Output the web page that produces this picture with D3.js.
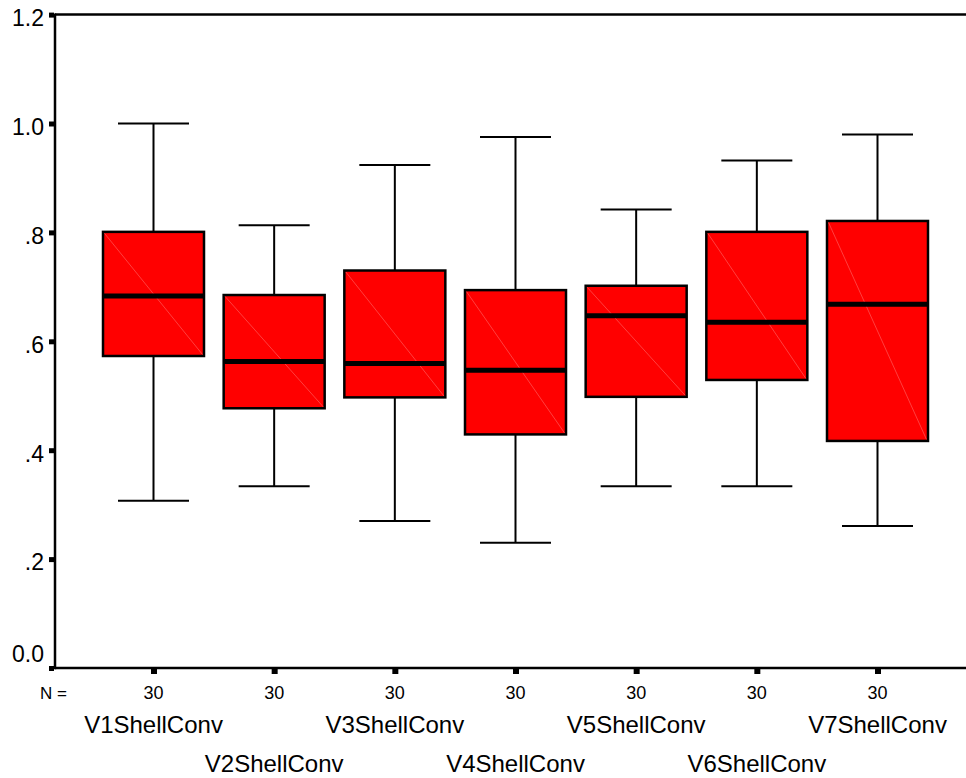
<!DOCTYPE html>
<html>
<head>
<meta charset="utf-8">
<title>Boxplot</title>
<script src="https://cdnjs.cloudflare.com/ajax/libs/d3/7.8.5/d3.min.js"></script>
<style>
    body { margin: 0; background: white; }
    svg text { font-family: "Liberation Sans", Arial, sans-serif; fill: black; }
</style>
</head>
<body>
<svg id="boxSVG" width="966" height="778"></svg>
<script>
// values
var categories = ["V1ShellConv", "V2ShellConv", "V3ShellConv", "V4ShellConv",
                  "V5ShellConv", "V6ShellConv", "V7ShellConv"];
var whiskerLow  = [0.307, 0.334, 0.270, 0.230, 0.334, 0.334, 0.261];
var q1          = [0.573, 0.477, 0.497, 0.429, 0.498, 0.529, 0.417];
var medians     = [0.683, 0.563, 0.559, 0.547, 0.647, 0.635, 0.668];
var q3          = [0.801, 0.685, 0.730, 0.694, 0.702, 0.801, 0.821];
var whiskerHigh = [1.000, 0.813, 0.924, 0.975, 0.842, 0.932, 0.980];
var counts      = [30, 30, 30, 30, 30, 30, 30];
var yTicks      = [0, 0.2, 0.4, 0.6, 0.8, 1.0, 1.2];
var yTickLabels = ["0.0", ".2", ".4", ".6", ".8", "1.0", "1.2"];

window.onload = function() {
    var svg = d3.select("#boxSVG");
    var w = +svg.attr("width");

    var left = 55, top = 14.6, bottom = 668;

    // Scale functions
    var yScale = d3.scaleLinear()
                   .domain([0, 1.2])
                   .range([bottom, top]);

    var xScale = d3.scalePoint()
                   .domain(categories)
                   .range([153.5, 877.5]);

    var boxW = 101, capW = 71;

    var data = categories.map(function (c, i) {
        return {name: c, lo: whiskerLow[i], q1: q1[i], med: medians[i],
                q3: q3[i], hi: whiskerHigh[i], n: counts[i], i: i};
    });

    // frame (left, top, bottom), open on the right
    svg.append("line").attr("x1", left).attr("x2", w).attr("y1", top).attr("y2", top)
        .attr("stroke", "black").attr("stroke-width", 2.5);
    svg.append("line").attr("x1", left).attr("x2", w).attr("y1", bottom).attr("y2", bottom)
        .attr("stroke", "black").attr("stroke-width", 2.5);
    svg.append("line").attr("x1", left).attr("x2", left).attr("y1", top - 1.2).attr("y2", bottom + 1.2)
        .attr("stroke", "black").attr("stroke-width", 2.5);

    // Define the axis (square tick marks)
    var yAxis = d3.axisLeft(yScale)
                  .tickValues(yTicks)
                  .tickSize(5)
                  .tickFormat(function (d, i) { return yTickLabels[i]; });

    var gy = svg.append("g").attr("transform", "translate(" + (left - 1) + ",0)").call(yAxis);
    gy.select(".domain").remove();
    gy.selectAll(".tick line").attr("stroke", "black").attr("stroke-width", 5);
    gy.selectAll(".tick text")
        .attr("x", -10)
        .attr("dy", function (d) { return d === 0 ? "-0.3em" : "0.47em"; })
        .style("font-size", "23px");

    var xAxis = d3.axisBottom(xScale)
                  .tickSize(5)
                  .tickFormat("");

    var gx = svg.append("g").attr("transform", "translate(0," + (bottom + 1) + ")").call(xAxis);
    gx.select(".domain").remove();
    gx.selectAll(".tick line").attr("stroke", "black").attr("stroke-width", 6);

    // N row
    svg.append("text").attr("x", 40).attr("y", 698.5).text("N =").style("font-size", "17px");
    svg.selectAll("text.count")
        .data(data)
        .enter()
        .append("text")
        .attr("class", "count")
        .attr("x", function (d) { return xScale(d.name); })
        .attr("y", 698.5)
        .attr("text-anchor", "middle")
        .style("font-size", "18px")
        .text(function (d) { return d.n; });

    // category labels, staggered on two rows
    svg.selectAll("text.cat")
        .data(data)
        .enter()
        .append("text")
        .attr("class", "cat")
        .attr("x", function (d) { return xScale(d.name); })
        .attr("y", function (d) { return d.i % 2 === 0 ? 733 : 772; })
        .attr("text-anchor", "middle")
        .style("font-size", "24px")
        .text(function (d) { return d.name; });

    var boxes = svg.selectAll("g.box")
        .data(data)
        .enter()
        .append("g")
        .attr("class", "box")
        .attr("transform", function (d) { return "translate(" + xScale(d.name) + ",0)"; });

    // whiskers
    boxes.append("line")
        .attr("x1", 0).attr("x2", 0)
        .attr("y1", function (d) { return yScale(d.hi); })
        .attr("y2", function (d) { return yScale(d.lo); })
        .attr("stroke", "black").attr("stroke-width", 2);
    boxes.append("line")
        .attr("x1", -capW / 2).attr("x2", capW / 2)
        .attr("y1", function (d) { return yScale(d.hi); })
        .attr("y2", function (d) { return yScale(d.hi); })
        .attr("stroke", "black").attr("stroke-width", 2);
    boxes.append("line")
        .attr("x1", -capW / 2).attr("x2", capW / 2)
        .attr("y1", function (d) { return yScale(d.lo); })
        .attr("y2", function (d) { return yScale(d.lo); })
        .attr("stroke", "black").attr("stroke-width", 2);

    // box
    boxes.append("rect")
        .attr("x", -boxW / 2)
        .attr("y", function (d) { return yScale(d.q3); })
        .attr("width", boxW)
        .attr("height", function (d) { return yScale(d.q1) - yScale(d.q3); })
        .attr("fill", "#ff0000")
        .attr("stroke", "black")
        .attr("stroke-width", 2.5);

    // faint diagonal seam inside the box
    boxes.append("line")
        .attr("x1", -boxW / 2 + 1.5).attr("x2", boxW / 2 - 1.5)
        .attr("y1", function (d) { return yScale(d.q3) + 1.5; })
        .attr("y2", function (d) { return yScale(d.q1) - 1.5; })
        .attr("stroke", "#ff6a6a").attr("stroke-width", 0.6);

    // median
    boxes.append("line")
        .attr("x1", -boxW / 2).attr("x2", boxW / 2)
        .attr("y1", function (d) { return yScale(d.med); })
        .attr("y2", function (d) { return yScale(d.med); })
        .attr("stroke", "black").attr("stroke-width", 5);
};
</script>
</body>
</html>
